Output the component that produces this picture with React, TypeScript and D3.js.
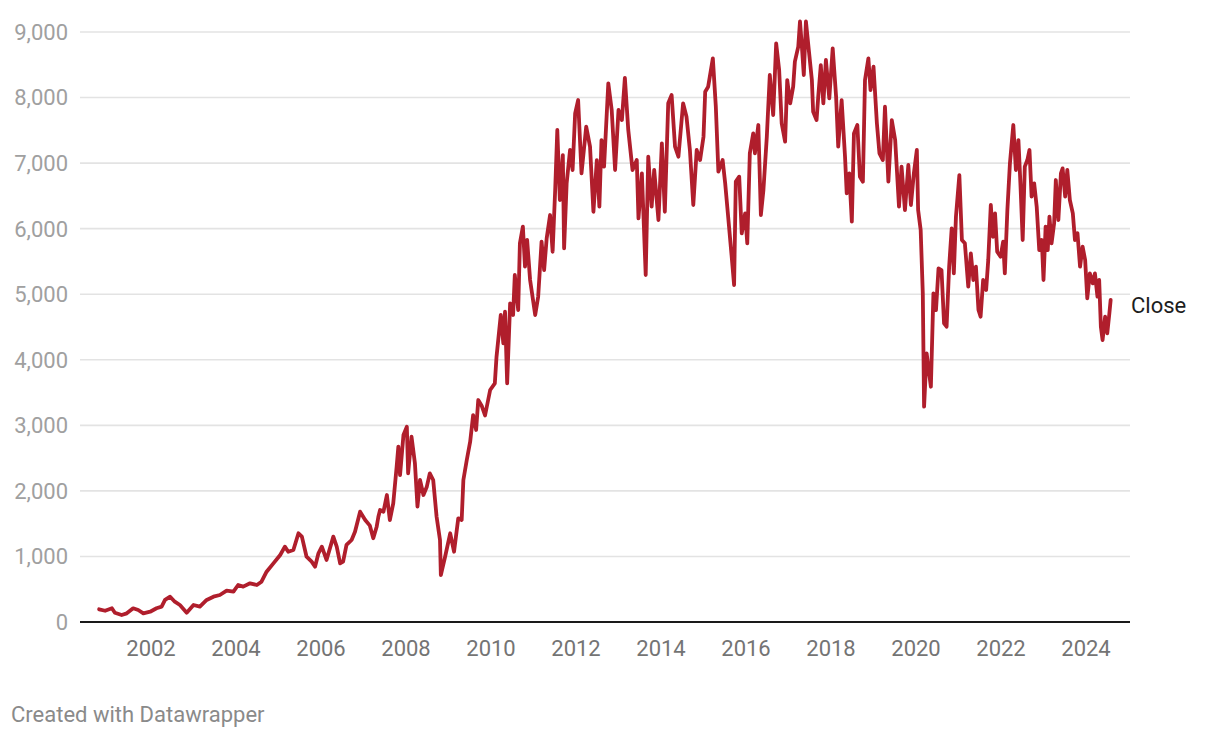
import React from "react";
import * as d3 from "d3";

const years: number[] = [
  2000.78, 2000.92, 2001.08, 2001.15, 2001.31, 2001.43, 2001.58, 2001.7, 2001.82, 2001.98,
  2002.13, 2002.25, 2002.33, 2002.45, 2002.56, 2002.68, 2002.84, 2003.0, 2003.15, 2003.31,
  2003.47, 2003.62, 2003.78, 2003.94, 2004.05, 2004.17, 2004.33, 2004.49, 2004.6, 2004.72,
  2004.88, 2005.04, 2005.15, 2005.23, 2005.35, 2005.47, 2005.55, 2005.66, 2005.78, 2005.86,
  2005.94, 2006.02, 2006.13, 2006.29, 2006.37, 2006.45, 2006.52, 2006.6, 2006.72, 2006.8,
  2006.92, 2007.04, 2007.15, 2007.23, 2007.31, 2007.35, 2007.39, 2007.47, 2007.55, 2007.62,
  2007.7, 2007.78, 2007.82, 2007.86, 2007.94, 2008.02, 2008.05, 2008.13, 2008.21, 2008.27,
  2008.33, 2008.41, 2008.49, 2008.56, 2008.64, 2008.72, 2008.8, 2008.82, 2008.92, 2009.04,
  2009.13, 2009.23, 2009.31, 2009.35, 2009.43, 2009.51, 2009.58, 2009.65, 2009.7, 2009.78,
  2009.86, 2009.98, 2010.09, 2010.13, 2010.23, 2010.29, 2010.33, 2010.38, 2010.45, 2010.52,
  2010.56, 2010.64, 2010.68, 2010.75, 2010.8, 2010.85, 2010.92, 2011.04, 2011.11, 2011.19,
  2011.25, 2011.31, 2011.39, 2011.45, 2011.51, 2011.56, 2011.62, 2011.69, 2011.72, 2011.78,
  2011.86, 2011.92, 2011.98, 2012.05, 2012.13, 2012.24, 2012.33, 2012.41, 2012.49, 2012.55,
  2012.6, 2012.66, 2012.76, 2012.84, 2012.92, 2013.0, 2013.08, 2013.15, 2013.23, 2013.33,
  2013.43, 2013.47, 2013.55, 2013.58, 2013.64, 2013.7, 2013.78, 2013.84, 2013.94, 2014.02,
  2014.09, 2014.17, 2014.25, 2014.33, 2014.41, 2014.52, 2014.6, 2014.68, 2014.76, 2014.84,
  2014.92, 2015.0, 2015.04, 2015.11, 2015.22, 2015.29, 2015.35, 2015.45, 2015.51, 2015.58,
  2015.66, 2015.72, 2015.76, 2015.84, 2015.9, 2015.98, 2016.03, 2016.09, 2016.17, 2016.21,
  2016.29, 2016.35, 2016.41, 2016.49, 2016.56, 2016.64, 2016.71, 2016.78, 2016.84, 2016.92,
  2016.97, 2017.04, 2017.11, 2017.15, 2017.23, 2017.27, 2017.31, 2017.36, 2017.41, 2017.47,
  2017.55, 2017.58, 2017.66, 2017.7, 2017.76, 2017.82, 2017.88, 2017.96, 2018.04, 2018.12,
  2018.17, 2018.25, 2018.33, 2018.37, 2018.43, 2018.49, 2018.54, 2018.62, 2018.68, 2018.75,
  2018.8, 2018.88, 2018.93, 2019.0, 2019.08, 2019.14, 2019.22, 2019.27, 2019.35, 2019.43,
  2019.51, 2019.6, 2019.66, 2019.74, 2019.82, 2019.88, 2019.95, 2020.02, 2020.05, 2020.11,
  2020.16, 2020.19, 2020.25, 2020.35, 2020.41, 2020.47, 2020.53, 2020.6, 2020.66, 2020.72,
  2020.78, 2020.84, 2020.89, 2020.94, 2021.02, 2021.08, 2021.15, 2021.23, 2021.29, 2021.35,
  2021.41, 2021.47, 2021.52, 2021.58, 2021.65, 2021.7, 2021.76, 2021.81, 2021.86, 2021.91,
  2021.99, 2022.05, 2022.09, 2022.15, 2022.21, 2022.29, 2022.35, 2022.41, 2022.46, 2022.51,
  2022.56, 2022.62, 2022.67, 2022.72, 2022.78, 2022.84, 2022.9, 2022.96, 2023.0, 2023.05,
  2023.1, 2023.14, 2023.19, 2023.25, 2023.29, 2023.35, 2023.41, 2023.45, 2023.51, 2023.56,
  2023.62, 2023.69, 2023.74, 2023.8, 2023.86, 2023.92, 2023.98, 2024.03, 2024.09, 2024.16,
  2024.21, 2024.27, 2024.31, 2024.35, 2024.39, 2024.45, 2024.5, 2024.55, 2024.58,
];

// Close values
const close: number[] = [
  194, 172, 209, 142, 107, 132, 209, 183, 133, 157,
  209, 234, 336, 386, 310, 259, 142, 259, 234, 336,
  386, 412, 478, 462, 564, 539, 590, 564, 615, 767,
  895, 1022, 1149, 1072, 1098, 1353, 1302, 996, 920, 844,
  1048, 1149, 946, 1302, 1149, 895, 920, 1175, 1251, 1377,
  1683, 1556, 1470, 1277, 1454, 1606, 1708, 1683, 1937, 1556,
  1810, 2369, 2674, 2242, 2852, 2979, 2268, 2827, 2420, 1759,
  2166, 1937, 2064, 2268, 2166, 1606, 1251, 717, 996, 1353,
  1072, 1582, 1556, 2166, 2471, 2750, 3157, 2929, 3386, 3300,
  3150, 3539, 3641, 4047, 4683, 4251, 4733, 3641, 4861, 4683,
  5293, 4759, 5776, 6030, 5420, 5827, 5217, 4683, 4962, 5801,
  5369, 5852, 6208, 5648, 6590, 7505, 6437, 7123, 5700, 6691,
  7200, 6895, 7759, 7962, 6844, 7555, 7250, 6258, 7047, 6335,
  7352, 6945, 8217, 7810, 6895, 7810, 7657, 8300, 7505, 6895,
  7047, 6157, 6844, 6335, 5293, 7098, 6335, 6895, 6132, 7301,
  6258, 7912, 8038, 7250, 7098, 7912, 7708, 7200, 6361, 7200,
  7047, 7403, 8089, 8166, 8598, 7860, 6869, 7047, 6692, 6183,
  5598, 5140, 6717, 6793, 5929, 6234, 5776, 7149, 7454, 7149,
  7581, 6208, 6590, 7403, 8344, 7734, 8827, 8420, 7607, 7327,
  8267, 7912, 8166, 8547, 8776, 9160, 8827, 8344, 9160, 8776,
  8267, 7784, 7657, 8013, 8496, 7912, 8573, 7988, 8750, 8013,
  7250, 7962, 7098, 6539, 6844, 6106, 7454, 7581, 6793, 6717,
  8267, 8598, 8115, 8471, 7607, 7149, 7047, 7860, 6717, 7657,
  7352, 6335, 6946, 6284, 6971, 6361, 6844, 7200, 6284, 5979,
  5013, 3284, 4098, 3589, 5013, 4759, 5395, 5369, 4556, 4505,
  5420, 6005, 5318, 6183, 6818, 5827, 5776, 5115, 5624, 5217,
  5420, 4759, 4657, 5217, 5064, 5522, 6361, 5877, 6234, 5648,
  5572, 5801, 5318, 6284, 6997, 7581, 6895, 7352, 6640, 5827,
  6946, 7047, 7200, 6488, 6692, 6335, 5674, 5827, 5217, 6030,
  5674, 6183, 5776, 6081, 6742, 6132, 6844, 6920, 6488, 6895,
  6437, 6234, 5827, 5929, 5420, 5725, 5522, 4937, 5318, 5166,
  5318, 4962, 5217, 4505, 4301, 4657, 4403, 4708, 4912,
];

const yTicks: number[] = [0, 1000, 2000, 3000, 4000, 5000, 6000, 7000, 8000, 9000];
const xTicks: number[] = [2002, 2004, 2006, 2008, 2010, 2012, 2014, 2016, 2018, 2020, 2022, 2024];
const seriesLabel = "Close";
const footer = "Created with Datawrapper";

const W = 1220;
const H = 738;
const FONT = "Roboto, 'Noto Sans', sans-serif";

export default function App() {
  const x = d3.scaleLinear().domain([2002, 2024]).range([151, 1086]);
  const y = d3.scaleLinear().domain([0, 9000]).range([622, 32]);
  const gridLeft = 80;
  const gridRight = 1130;

  const data = years.map((yr, i) => ({ yr, v: close[i] }));
  const line = d3
    .line<{ yr: number; v: number }>()
    .x((d) => x(d.yr))
    .y((d) => y(d.v));

  const last = data[data.length - 1];
  const fmt = d3.format(",");

  return (
    <div style={{ position: "fixed", left: 0, top: 0, width: W, height: H, background: "#fff" }}>
      <svg width={W} height={H} style={{ display: "block", fontFamily: FONT }}>
        {yTicks.map((t) => (
          <g key={t}>
            {t !== 0 && (
              <line x1={gridLeft} x2={gridRight} y1={y(t)} y2={y(t)} stroke="#e3e3e3" strokeWidth={1.6} />
            )}
            <text x={68} y={y(t)} dy="0.36em" textAnchor="end" fontSize={22} fill="#a0a0a0">
              {fmt(t)}
            </text>
          </g>
        ))}
        {xTicks.map((t) => (
          <text key={t} x={x(t)} y={656} textAnchor="middle" fontSize={22} fill="#747474">
            {t}
          </text>
        ))}
        <path
          d={line(data) || ""}
          fill="none"
          stroke="#b01e2c"
          strokeWidth={3.8}
          strokeLinejoin="round"
          strokeLinecap="round"
        />
        <line x1={gridLeft} x2={gridRight} y1={y(0)} y2={y(0)} stroke="#1a1a1a" strokeWidth={2.2} />
        <text x={1131} y={y(last.v)} dy="0.6em" fontSize={22} fill="#1d1d1d">
          {seriesLabel}
        </text>
        <text x={11} y={722} fontSize={22} fill="#8a8a8a">
          {footer}
        </text>
      </svg>
    </div>
  );
}
